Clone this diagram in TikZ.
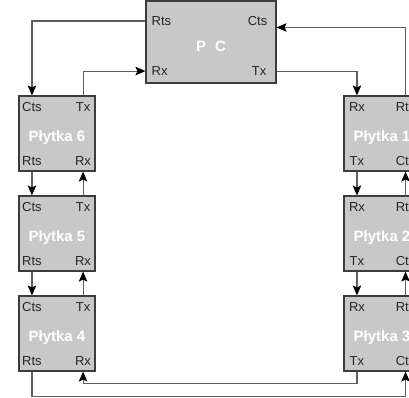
\documentclass[tikz,border=0pt]{standalone}
\usepackage{fontspec}
\setmainfont{Liberation Sans}
\usepackage{tikz}
\usetikzlibrary{arrows.meta,calc}
\definecolor{boardgray}{RGB}{200,200,200}
\definecolor{edgegray}{RGB}{60,60,60}
\definecolor{wiregray}{RGB}{95,95,95}

\begin{document}
\begin{tikzpicture}[
  x=1pt, y=-1pt,
  % Board box (Plytka) and PC box
  board/.style = {draw=edgegray, fill=boardgray, line width=1.1pt,
                  minimum width=76pt, minimum height=75pt, inner sep=0pt,
                  text height=15pt, text depth=0pt,
                  font=\bfseries\fontsize{15}{15}\selectfont, text=white},
  pcbox/.style = {board, minimum width=130pt, minimum height=82pt,
                  text height=19.5pt},
  % Port label
  port/.style  = {font=\fontsize{13}{13}\selectfont, text=black!85,
                  inner sep=0pt, anchor=base},
  wire/.style  = {-{Stealth[length=10pt,width=8.5pt,inset=2pt,color=black]},
                  line width=1.1pt, color=wiregray}
]
\useasboundingbox (0,0) rectangle (409,397);

% PC at the top
\node[pcbox](PC) at (211,42){P\hspace{9pt}C};
\node[port,anchor=base west](PRts) at ([shift={(6,25)}]PC.north west){Rts};
\node[port,anchor=base east](PCts) at ([shift={(-9,25)}]PC.north east){Cts};
\node[port,anchor=base west](PRx)  at ([shift={(6,-8)}]PC.south west){Rx};
\node[port,anchor=base east](PTx)  at ([shift={(-10,-8)}]PC.south east){Tx};

% Boards, left column (x = 57), pitch 100
\node[board](B6) at (57,133.5){Płytka 6};
\node[board](B5) at (57,233.5){Płytka 5};
\node[board](B4) at (57,333.5){Płytka 4};

% Boards, right column (x = 382), partly outside the page
\node[board](B1) at (382,133.5){Płytka 1};
\node[board](B2) at (382,233.5){Płytka 2};
\node[board](B3) at (382,333.5){Płytka 3};

% Port labels, left column
\node[port](Cts6) at ([shift={(13.5,16.3)}]B6.north west){Cts};
\node[port](Tx6)  at ([shift={(-12.5,16.3)}]B6.north east){Tx};
\node[port](Rts6) at ([shift={(13.5,-6)}]B6.south west){Rts};
\node[port](Rx6)  at ([shift={(-12.5,-6)}]B6.south east){Rx};
\node[port](Cts5) at ([shift={(13.5,16.3)}]B5.north west){Cts};
\node[port](Tx5)  at ([shift={(-12.5,16.3)}]B5.north east){Tx};
\node[port](Rts5) at ([shift={(13.5,-6)}]B5.south west){Rts};
\node[port](Rx5)  at ([shift={(-12.5,-6)}]B5.south east){Rx};
\node[port](Cts4) at ([shift={(13.5,16.3)}]B4.north west){Cts};
\node[port](Tx4)  at ([shift={(-12.5,16.3)}]B4.north east){Tx};
\node[port](Rts4) at ([shift={(13.5,-6)}]B4.south west){Rts};
\node[port](Rx4)  at ([shift={(-12.5,-6)}]B4.south east){Rx};

% Port labels, right column
\node[port](Rx1)  at ([shift={(13.5,16.3)}]B1.north west){Rx};
\node[port](Rts1) at ([shift={(-15,16.3)}]B1.north east){Rts};
\node[port](Tx1)  at ([shift={(13.5,-6)}]B1.south west){Tx};
\node[port](Cts1) at ([shift={(-15,-6)}]B1.south east){Cts};
\node[port](Rx2)  at ([shift={(13.5,16.3)}]B2.north west){Rx};
\node[port](Rts2) at ([shift={(-15,16.3)}]B2.north east){Rts};
\node[port](Tx2)  at ([shift={(13.5,-6)}]B2.south west){Tx};
\node[port](Cts2) at ([shift={(-15,-6)}]B2.south east){Cts};
\node[port](Rx3)  at ([shift={(13.5,16.3)}]B3.north west){Rx};
\node[port](Rts3) at ([shift={(-15,16.3)}]B3.north east){Rts};
\node[port](Tx3)  at ([shift={(13.5,-6)}]B3.south west){Tx};
\node[port](Cts3) at ([shift={(-15,-6)}]B3.south east){Cts};

% PC <-> first and last board
\draw[wire](PRts -| PC.west) -| (Cts6 |- B6.north);
\draw[wire](Tx6 |- B6.north) |- (PRx -| PC.west);
\draw[wire](PTx -| PC.east) -| (Rx1 |- B1.north);
\coordinate(PCin) at ($(PCts -| PC.east)+(0,6.5)$);
\draw[wire](Rts1 |- B1.north) |- (PCin);

% Left column links
\draw[wire](Rts6 |- B6.south) -- (Cts5 |- B5.north);
\draw[wire](Tx5 |- B5.north)  -- (Rx6 |- B6.south);
\draw[wire](Rts5 |- B5.south) -- (Cts4 |- B4.north);
\draw[wire](Tx4 |- B4.north)  -- (Rx5 |- B5.south);

% Right column links
\draw[wire](Tx1 |- B1.south)  -- (Rx2 |- B2.north);
\draw[wire](Rts2 |- B2.north) -- (Cts1 |- B1.south);
\draw[wire](Tx2 |- B2.south)  -- (Rx3 |- B3.north);
\draw[wire](Rts3 |- B3.north) -- (Cts2 |- B2.south);

% Bottom crossings: board 3 <-> board 4
\draw[wire](Tx3 |- B3.south) -- ++(0,12) -| (Rx4 |- B4.south);
\draw[wire](Rts4 |- B4.south) -- ++(0,25) -| (Cts3 |- B3.south);

\end{tikzpicture}
\end{document}
